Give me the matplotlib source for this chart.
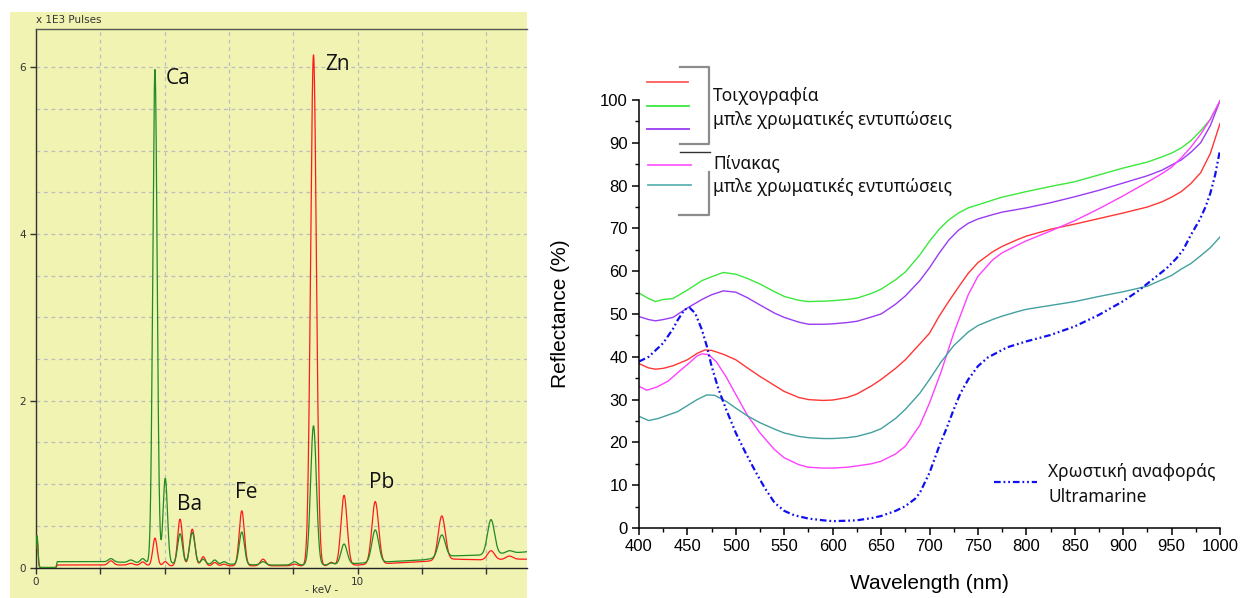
import numpy as np
import matplotlib
matplotlib.use("Agg")
import matplotlib.pyplot as plt
from matplotlib.lines import Line2D
from matplotlib.patches import Rectangle
from matplotlib.ticker import MultipleLocator

plt.rcParams["font.family"] = ["Liberation Sans", "DejaVu Sans"]

# ---------------- XRF spectrum data (left) ----------------
xrf_peak_energy = [0.03, 2.33, 2.95, 3.32, 3.70, 4.02, 4.48, 4.86, 5.20, 5.56, 5.85,
                   6.40, 7.06, 8.04, 8.63, 9.18, 9.58, 10.55, 12.62, 14.15, 14.72]
xrf_peak_sigma = [0.03, 0.08, 0.08, 0.07, 0.068, 0.068, 0.075, 0.08, 0.07, 0.07, 0.07,
                  0.08, 0.085, 0.085, 0.09, 0.075, 0.095, 0.105, 0.11, 0.11, 0.11]
xrf_peak_red = [0.38, 0.05, 0.02, 0.04, 0.33, 0.05, 0.56, 0.44, 0.11, 0.04, 0.02,
                0.66, 0.08, 0.02, 6.13, 0.04, 0.84, 0.75, 0.53, 0.11, 0.04]
xrf_peak_green = [0.38, 0.04, 0.03, 0.05, 5.92, 1.02, 0.36, 0.38, 0.06, 0.05, 0.03,
                  0.39, 0.04, 0.04, 1.67, 0.02, 0.24, 0.39, 0.27, 0.42, 0.03]
xrf_base_energy = [0.0, 0.62, 0.66, 2.0, 3.0, 4.0, 5.0, 6.0, 7.0, 8.0, 9.0, 10.0,
                   11.0, 12.0, 13.0, 14.0, 15.0, 15.3]
xrf_base_red = [0.0, 0.0, 0.03, 0.03, 0.03, 0.02, 0.02, 0.02, 0.02, 0.02, 0.02, 0.03,
                0.05, 0.07, 0.10, 0.09, 0.10, 0.10]
xrf_base_green = [0.0, 0.0, 0.07, 0.07, 0.06, 0.05, 0.04, 0.04, 0.03, 0.03, 0.03, 0.05,
                  0.07, 0.09, 0.14, 0.15, 0.18, 0.19]
xrf_labels = ["Ca", "Zn", "Ba", "Fe", "Pb"]

# ---------------- Reflectance data (right) ----------------
wl_green = [400, 410, 417, 425, 435, 450, 465, 475, 487, 500, 512, 525, 540, 550, 565, 575, 590,
            600, 615, 625, 640, 650, 665, 675, 690, 700, 710, 720, 730, 740, 750, 765, 775, 800,
            825, 850, 875, 900, 925, 940, 950, 960, 970, 980, 990, 1000]
r_green = [54.9, 53.6, 52.9, 53.4, 53.6, 55.6, 57.8, 58.7, 59.7, 59.3, 58.3, 57.0, 55.2, 54.1,
           53.2, 52.9, 53.0, 53.1, 53.4, 53.7, 54.8, 55.8, 58.0, 59.8, 63.8, 67.0, 69.8, 72.0,
           73.6, 74.8, 75.5, 76.6, 77.3, 78.6, 79.8, 80.9, 82.5, 84.1, 85.5, 86.7, 87.6, 88.8,
           90.5, 92.8, 95.5, 99.8]
wl_purple = wl_green
r_purple = [49.4, 48.7, 48.4, 48.7, 49.2, 51.4, 53.4, 54.5, 55.4, 55.1, 53.8, 52.1, 50.2, 49.2,
            48.1, 47.6, 47.6, 47.7, 48.0, 48.3, 49.3, 50.0, 52.3, 54.2, 57.8, 60.8, 64.2, 67.3,
            69.6, 71.2, 72.2, 73.2, 73.8, 74.8, 76.0, 77.4, 78.9, 80.6, 82.3, 83.6, 84.8, 86.0,
            87.8, 90.0, 94.0, 99.8]
wl_red = [400, 410, 417, 425, 435, 450, 460, 468, 475, 487, 500, 512, 525, 540, 550, 565, 575,
          590, 600, 615, 625, 640, 650, 665, 675, 690, 700, 710, 720, 730, 740, 750, 765, 775,
          790, 800, 825, 850, 875, 900, 925, 940, 950, 960, 970, 980, 990, 1000]
r_red = [38.4, 37.4, 37.1, 37.3, 37.9, 39.3, 40.8, 41.6, 41.5, 40.6, 39.3, 37.4, 35.4, 33.3,
         31.9, 30.5, 30.0, 29.8, 29.9, 30.5, 31.3, 33.2, 34.7, 37.3, 39.3, 43.0, 45.5, 49.5,
         53.0, 56.3, 59.5, 62.0, 64.5, 65.8, 67.3, 68.2, 69.8, 71.0, 72.3, 73.6, 75.0, 76.2,
         77.3, 78.6, 80.5, 83.0, 87.5, 94.5]
wl_pink = [400, 408, 418, 430, 440, 450, 460, 465, 472, 480, 490, 500, 512, 525, 540, 550, 565,
           575, 590, 600, 615, 625, 640, 650, 665, 675, 690, 700, 712, 725, 740, 750, 765, 775,
           790, 800, 825, 850, 875, 900, 925, 940, 950, 960, 970, 980, 990, 1000]
r_pink = [33.1, 32.2, 32.9, 34.3, 36.3, 38.2, 40.2, 40.7, 40.5, 38.8, 35.3, 31.2, 26.3, 22.2,
          18.3, 16.4, 14.8, 14.2, 14.0, 14.0, 14.2, 14.5, 15.0, 15.6, 17.3, 19.1, 24.0, 29.2,
          36.5, 45.5, 54.5, 58.8, 62.6, 64.3, 66.0, 67.1, 69.4, 71.8, 74.6, 77.6, 80.8, 82.8,
          84.3, 86.5, 89.0, 92.0, 95.5, 99.8]
wl_teal = [400, 410, 420, 430, 440, 450, 460, 470, 478, 490, 500, 512, 525, 540, 550, 565, 575,
           590, 600, 615, 625, 640, 650, 665, 675, 690, 700, 712, 725, 740, 750, 765, 775, 790,
           800, 825, 850, 875, 900, 925, 940, 950, 960, 970, 980, 990, 1000]
r_teal = [26.1, 25.1, 25.6, 26.4, 27.2, 28.6, 30.0, 31.1, 31.0, 29.6, 28.0, 26.2, 24.6, 23.1,
          22.2, 21.4, 21.1, 20.9, 20.9, 21.1, 21.4, 22.3, 23.2, 25.6, 27.7, 31.5, 34.7, 38.8,
          42.6, 45.8, 47.3, 48.7, 49.5, 50.5, 51.1, 52.0, 52.9, 54.1, 55.2, 56.5, 58.0, 59.0,
          60.5, 61.8, 63.6, 65.5, 68.0]
wl_blue = [400, 410, 425, 435, 440, 447, 452, 458, 465, 470, 475, 482, 490, 500, 510, 520, 530,
           540, 550, 560, 575, 590, 600, 615, 625, 640, 650, 665, 675, 685, 690, 700, 710, 718,
           725, 732, 740, 750, 760, 770, 780, 800, 825, 850, 875, 900, 915, 930, 945, 955, 962,
           970, 979, 985, 990, 995, 1000]
r_blue = [38.9, 40.0, 43.2, 46.5, 48.6, 51.0, 51.5, 50.2, 46.3, 42.5, 37.8, 32.5, 27.7, 22.2,
          17.6, 13.3, 9.3, 5.9, 4.0, 3.0, 2.2, 1.8, 1.6, 1.7, 1.8, 2.3, 2.8, 4.0, 5.1, 6.8, 8.2,
          12.9, 19.1, 23.5, 27.7, 31.5, 34.7, 37.8, 39.8, 41.0, 42.2, 43.6, 45.1, 47.1, 49.8,
          53.0, 55.3, 58.0, 60.7, 63.0, 65.0, 68.5, 72.0, 75.0, 78.2, 82.5, 88.3]

group1_title = "Τοιχογραφία"
group2_title = "Πίνακας"
group_sub = "μπλε χρωματικές εντυπώσεις"
ref_line1 = "Χρωστική αναφοράς"
ref_line2 = "Ultramarine"

# ---------------- figure ----------------
W, H = 1241, 598
fig = plt.figure(figsize=(W / 100, H / 100), dpi=100)
fig.patch.set_facecolor("white")


def fx(x):
    return x / W


def fy(y):
    return 1 - y / H


YEL = "#f0f3b2"
fig.patches.append(Rectangle((fx(10), 0), fx(527) - fx(10), fy(12), transform=fig.transFigure,
                             facecolor=YEL, edgecolor="none", zorder=-10))

# ---------- left: XRF ----------
ax1 = fig.add_axes([fx(36), fy(567.5), fx(527) - fx(36), fy(29) - fy(567.5)])
ax1.set_facecolor(YEL)
ax1.set_zorder(2)
energy = np.linspace(0, 15.3, 4000)


def spectrum(heights, base):
    y = np.interp(energy, xrf_base_energy, base)
    for e, s, h in zip(xrf_peak_energy, xrf_peak_sigma, heights):
        y = y + h * np.exp(-0.5 * ((energy - e) / s) ** 2)
    return y


ax1.plot(energy, spectrum(xrf_peak_red, xrf_base_red), color="#ff1a1a", lw=0.9, zorder=3)
ax1.plot(energy, spectrum(xrf_peak_green, xrf_base_green), color="#228b22", lw=0.9, zorder=4)
ax1.set_xlim(0, 15.27)
ax1.set_ylim(0, 6.46)
ax1.set_xticks(np.arange(0, 15, 2))
ax1.set_xticklabels(["0", "", "", "", "", "10", "", ""])
ax1.set_yticks([0, 2, 4, 6])
ax1.set_yticks(np.arange(0.5, 6.01, 0.5), minor=True)
ax1.grid(True, which="both", color="#bcbcbc", linestyle=(0, (3, 3)), lw=0.9, zorder=1)
ax1.set_axisbelow(True)
ax1.tick_params(axis="both", which="major", labelsize=7.5, labelcolor="#333333",
                color="#333333", length=4, width=1, direction="out", pad=3)
ax1.tick_params(axis="y", which="minor", length=0)
for lab in ax1.get_xticklabels() + ax1.get_yticklabels():
    lab.set_family("DejaVu Sans")
ax1.spines["right"].set_visible(False)
ax1.spines["top"].set_color("#555555")
ax1.spines["left"].set_color("#333333")
ax1.spines["bottom"].set_color("#222222")
for s in ["top", "left", "bottom"]:
    ax1.spines[s].set_linewidth(1.0)

small = dict(fontsize=7.5, color="#333333", va="center", family="DejaVu Sans")
fig.text(fx(36), fy(20), "x 1E3 Pulses", ha="left", **small)
fig.text(fx(322), fy(590), "- keV -", ha="center", **small)
label_pos = [(178, 79), (338, 64.5), (190, 504), (246, 492), (382, 483)]
for t, (px, py) in zip(xrf_labels, label_pos):
    fig.text(fx(px), fy(py), t, fontsize=15, family="Open Sans", color="#111111",
             ha="center", va="center", zorder=10)

# ---------- right: reflectance ----------
ax2 = fig.add_axes([fx(639), fy(528), fx(1220) - fx(639), fy(100) - fy(528)])
ax2.plot(wl_green, r_green, color="#3ce83c", lw=1.0)
ax2.plot(wl_purple, r_purple, color="#9a3cf2", lw=1.0)
ax2.plot(wl_red, r_red, color="#ff3636", lw=1.0)
ax2.plot(wl_pink, r_pink, color="#ff40ff", lw=1.0)
ax2.plot(wl_teal, r_teal, color="#43a0a0", lw=1.0)
bl, = ax2.plot(wl_blue, r_blue, color="#1010f0", lw=1.6)
bl.set_dashes([3, 1.3, 0.8, 1.3, 0.8, 1.3])
ax2.set_xlim(400, 1000)
ax2.set_ylim(0, 100)
ax2.xaxis.set_major_locator(MultipleLocator(50))
ax2.xaxis.set_minor_locator(MultipleLocator(25))
ax2.yaxis.set_major_locator(MultipleLocator(10))
ax2.yaxis.set_minor_locator(MultipleLocator(5))
for s in ["top", "right"]:
    ax2.spines[s].set_visible(False)
for s in ["left", "bottom"]:
    ax2.spines[s].set_linewidth(1.1)
ax2.tick_params(which="major", direction="out", length=5, width=1.1, labelsize=12, pad=3)
ax2.tick_params(which="minor", direction="out", length=3, width=1.0)
ax2.set_xlabel("Wavelength (nm)", fontsize=15, labelpad=14)
ax2.set_ylabel("Reflectance (%)", fontsize=15, labelpad=22)
ax2.patch.set_alpha(0)

# legend lines (figure pixels)
leg = [("#ff5a5a", 82, 647, 688), ("#3ce83c", 106, 647, 689), ("#9a3cf2", 129, 647, 689),
       ("#ff5cff", 165, 648, 691), ("#5fb3b3", 185, 648, 691)]
for c, y, x0, x1 in leg:
    fig.add_artist(Line2D([fx(x0), fx(x1)], [fy(y), fy(y)], color=c, lw=1.3,
                          transform=fig.transFigure))
br = "#8c8c8c"
fig.add_artist(Line2D([fx(680), fx(709.5), fx(709.5), fx(680)], [fy(67), fy(67), fy(144), fy(144)],
                      color=br, lw=1.6, transform=fig.transFigure))
fig.add_artist(Line2D([fx(680), fx(710)], [fy(152.3), fy(152.3)], color="#333333", lw=1.0,
                      transform=fig.transFigure))
fig.add_artist(Line2D([fx(709.5), fx(709.5), fx(679)], [fy(171.5), fy(215.5), fy(215.5)],
                      color=br, lw=1.6, transform=fig.transFigure))

gfont = dict(fontsize=12.5, family="Noto Sans", color="#111111", ha="left", va="center")
fig.text(fx(713), fy(96), group1_title, **gfont)
fig.text(fx(713), fy(120), group_sub, **gfont)
fig.text(fx(713), fy(163), group2_title, **gfont)
fig.text(fx(713), fy(187), group_sub, **gfont)

rl = Line2D([fx(994), fx(1037)], [fy(482.3), fy(482.3)], color="#1010f0", lw=1.6,
            transform=fig.transFigure)
rl.set_dashes([3, 1.3, 0.8, 1.3, 0.8, 1.3])
fig.add_artist(rl)
fig.text(fx(1048), fy(471.7), ref_line1, **gfont)
fig.text(fx(1048), fy(496.7), ref_line2, **gfont)

fig.savefig("out.png", dpi=100)
